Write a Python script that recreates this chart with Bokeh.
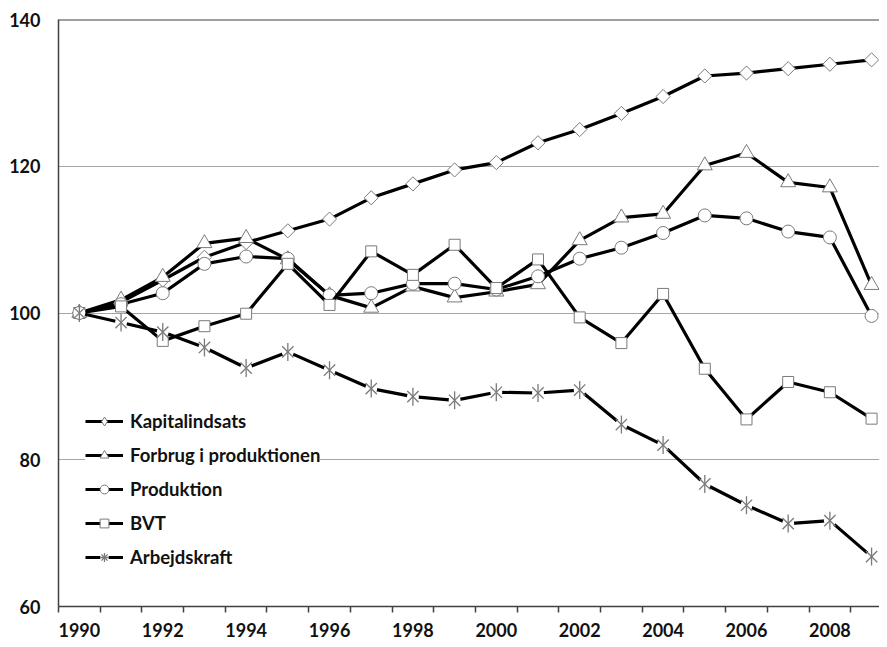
import math
from bokeh.plotting import figure
from bokeh.models import (Range1d, FixedTicker, Legend, LegendItem, Span)
from bokeh.embed import file_html
from bokeh.resources import INLINE

years = list(range(1990, 2010))
kapitalindsats = [100, 101.5, 104.5, 107.6, 109.6, 111.2, 112.8, 115.7, 117.6, 119.5,
                  120.5, 123.2, 125.0, 127.2, 129.5, 132.3, 132.7, 133.3, 133.9, 134.5]
forbrug = [100, 101.8, 104.9, 109.5, 110.2, 107.3, 102.4, 100.7, 103.6, 102.1,
           102.9, 103.9, 109.9, 113.0, 113.5, 120.1, 121.8, 117.8, 117.1, 103.8]
produktion = [100, 101.2, 102.7, 106.7, 107.7, 107.4, 102.4, 102.7, 104.0, 104.0,
              103.2, 105.0, 107.4, 108.9, 110.9, 113.3, 112.9, 111.1, 110.3, 99.6]
bvt = [100, 100.9, 96.2, 98.2, 99.9, 106.7, 101.1, 108.4, 105.2, 109.3,
       103.4, 107.3, 99.4, 95.9, 102.6, 92.4, 85.5, 90.6, 89.2, 85.6]
arbejdskraft = [100, 98.7, 97.4, 95.3, 92.5, 94.7, 92.2, 89.7, 88.6, 88.1,
                89.2, 89.1, 89.5, 84.8, 82.0, 76.7, 73.8, 71.3, 71.7, 66.8]

x_labels = [1990, 1992, 1994, 1996, 1998, 2000, 2002, 2004, 2006, 2008]
y_ticks = [60, 80, 100, 120, 140]

FONT = "Lato"
LINE_W = 3.2
MK_LINE = "#7a7a7a"

p = figure(width=879, height=639, output_backend="svg", toolbar_location=None,
           x_range=Range1d(1989.5, 2009.19), y_range=Range1d(60, 140),
           min_border_left=58, min_border_right=0, min_border_top=19, min_border_bottom=32)
p.outline_line_color = None
p.background_fill_color = "white"

# x axis
xa = p.xaxis[0]
xa.ticker = FixedTicker(ticks=x_labels,
                        minor_ticks=[y - 0.5 for y in years] + [2009.5])
xa.major_tick_line_color = None
xa.major_tick_out = 0
xa.major_tick_in = 0
xa.minor_tick_line_color = "#404040"
xa.minor_tick_line_width = 1.5
xa.minor_tick_out = 6
xa.minor_tick_in = 0
xa.axis_line_color = "#404040"
xa.axis_line_width = 1.5
xa.major_label_text_font = FONT
xa.major_label_text_font_style = "bold"
xa.major_label_text_font_size = "18px"
xa.major_label_text_color = "#111111"
xa.major_label_standoff = 10

ya = p.yaxis[0]
ya.ticker = FixedTicker(ticks=y_ticks)
ya.major_tick_line_color = None
ya.major_tick_out = 0
ya.major_tick_in = 0
ya.minor_tick_line_color = None
ya.axis_line_color = "#404040"
ya.axis_line_width = 1.5
ya.major_label_text_font = FONT
ya.major_label_text_font_style = "bold"
ya.major_label_text_font_size = "18px"
ya.major_label_text_color = "#111111"
ya.major_label_standoff = 18

p.xgrid.grid_line_color = None
p.ygrid.ticker = FixedTicker(ticks=y_ticks)
p.ygrid.grid_line_color = "#a6a6a6"
p.ygrid.grid_line_width = 1.2

top = Span(location=140, dimension="width", line_color="#404040", line_width=2)
p.add_layout(top)

items = []

def series(name, vals, kind):
    rs = []
    rs.append(p.line(years, vals, line_color="black", line_width=LINE_W))
    if kind == "diamond":
        p.scatter(years, vals, marker="square", size=10, angle=math.pi / 4,
                  fill_color="white", line_color=MK_LINE, line_width=1)
        leg = p.scatter(years, vals, marker="diamond", size=12,
                        fill_color="white", line_color=MK_LINE, line_width=1)
        leg.visible = False
        rs.append(leg)
    elif kind == "triangle":
        rs.append(p.scatter(years, vals, marker="triangle", size=15,
                            fill_color="white", line_color=MK_LINE, line_width=1))
    elif kind == "circle":
        rs.append(p.scatter(years, vals, marker="circle", size=13,
                            fill_color="white", line_color=MK_LINE, line_width=1))
    elif kind == "square":
        rs.append(p.scatter(years, vals, marker="square", size=11,
                            fill_color="white", line_color=MK_LINE, line_width=1))
    elif kind == "star":
        rs.append(p.scatter(years, vals, marker="circle", size=12,
                            fill_color="white", line_color=None))
        p.scatter(years, vals, marker="x", size=16,
                  line_color=MK_LINE, line_width=1.3)
        p.scatter(years, vals, marker="dash", size=18, angle=math.pi / 2,
                  line_color=MK_LINE, line_width=1.3)
        leg = p.scatter(years, vals, marker="asterisk", size=16,
                        line_color=MK_LINE, line_width=1.3)
        leg.visible = False
        rs.append(leg)
    items.append(LegendItem(label=name, renderers=rs))

series("Kapitalindsats", kapitalindsats, "diamond")
series("Forbrug i produktionen", forbrug, "triangle")
series("Produktion", produktion, "circle")
series("BVT", bvt, "square")
series("Arbejdskraft", arbejdskraft, "star")

legend = Legend(items=items, location=(27, 38))
legend.click_policy = "none"
legend.inactive_fill_alpha = 0
legend.background_fill_color = "white"
legend.background_fill_alpha = 1
legend.border_line_color = None
legend.padding = 4
legend.margin = 0
legend.spacing = 12
legend.glyph_width = 38
legend.glyph_height = 22
legend.label_height = 22
legend.label_standoff = 7
legend.label_text_font = FONT
legend.label_text_font_style = "bold"
legend.label_text_font_size = "18.5px"
legend.label_text_color = "#111111"
p.add_layout(legend)

open("out.html", "w").write(file_html(p, INLINE))
